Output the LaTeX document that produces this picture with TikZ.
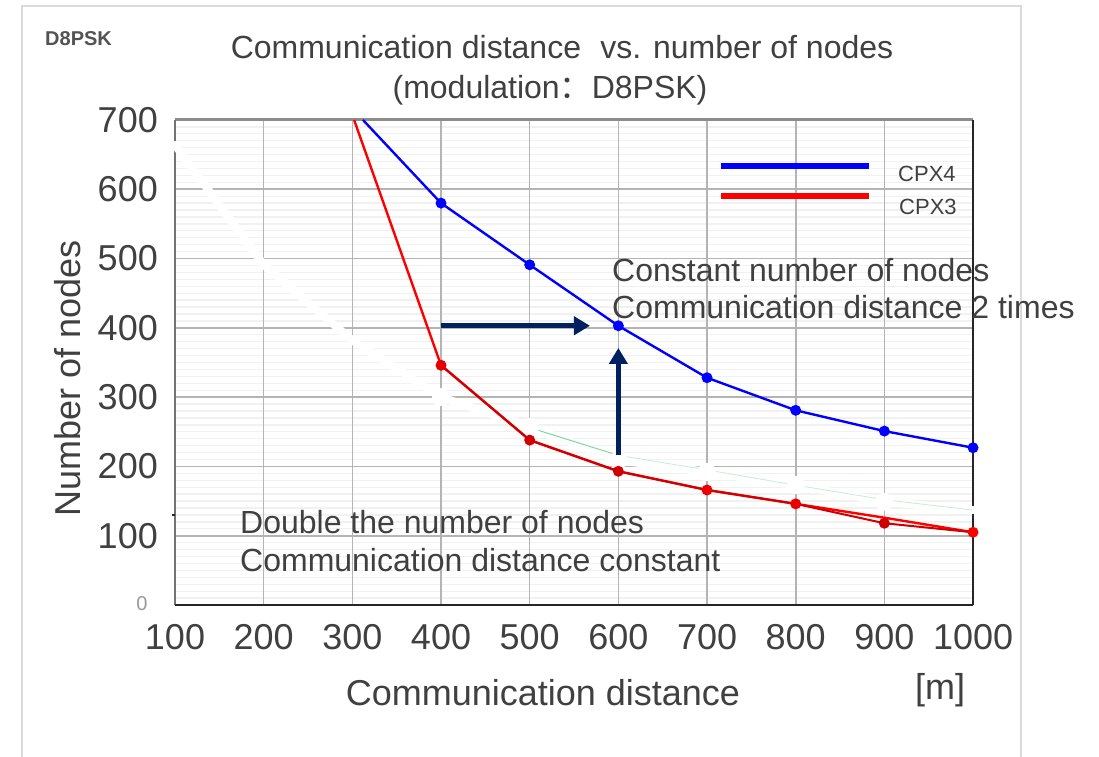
\documentclass[tikz,border=0pt]{standalone}
\usepackage{fontspec}
\setmainfont{Liberation Sans}
\newfontfamily\cjk{Noto Sans CJK SC}
\usetikzlibrary{arrows.meta}
\definecolor{txt}{HTML}{404040}
\definecolor{framegray}{HTML}{DADADA}
\definecolor{majorgrid}{HTML}{B4B4B4}
\definecolor{minorgrid}{HTML}{F1F1F1}
\definecolor{navy}{HTML}{002060}
\definecolor{darkred}{HTML}{D00000}
\definecolor{ghostgreen}{HTML}{7FD6A0}
\tikzset{
  every node/.style={text=txt, inner sep=0pt},
  ticklabel/.style={font=\fontsize{36}{40}\selectfont},
  axislabel/.style={font=\fontsize{36}{40}\selectfont},
  titletext/.style={font=\fontsize{32}{36}\selectfont},
  note/.style={font=\fontsize{32}{36}\selectfont, anchor=west},
  legendtext/.style={font=\fontsize{22}{26}\selectfont, anchor=west},
  minorline/.style={draw=minorgrid, line width=1.3pt},
  majorline/.style={draw=majorgrid, line width=1.6pt},
  blueseries/.style={draw=blue, line width=2.4pt, line join=round},
  redseries/.style={draw=red, line width=2.4pt, line join=round},
  darkredseries/.style={draw=darkred, line width=2pt, line join=round},
  ghost/.style={draw=white, line width=8pt, line join=round, line cap=round},
  navyarrow/.style={draw=navy, line width=5pt, -{Triangle[length=16pt,width=18pt]}},
  legendline/.style={line width=6pt},
}
\begin{document}
\begin{tikzpicture}[x=1pt,y=-1pt]
\useasboundingbox (0,0) rectangle (1099,756);
\fill[white] (0,0) rectangle (1099,756);

% outer frame
\draw[framegray, line width=1.6pt] (22,770) -- (22,6) -- (1021,6) -- (1021,770);

% corner tag and title
\node[anchor=west, text=txt!90, font=\fontsize{20}{22}\selectfont\bfseries] (tag) at (45,39) {D8PSK};
\node[titletext] (title1) at (562,47) {Communication distance\hspace{0.6em}vs. number of nodes};
\node[titletext] (title2) at (550,90) {(modulation{\cjk ：}D8PSK)};

% data area
\begin{scope}[shift={(86.33pt,-605pt)}, x=0.8867pt, y=0.6929pt]
  % grid
  \foreach \v in {10,20,...,690} \draw[minorline] (100,\v) -- (1000,\v);
  \foreach \v in {100,200,...,600} \draw[majorline] (100,\v) -- (1000,\v);
  \foreach \d in {200,300,...,900} \draw[majorline] (\d,0) -- (\d,700);
  % plot frame
  \draw[draw=black!45, line width=3pt] (100,700) -- (1000,700);
  \draw[draw=black!55, line width=2.2pt] (100,0) -- (100,700);
  \draw[draw=black!85, line width=2pt] (100,0) -- (1000,0);
  \draw[draw=black!85, line width=2pt] (1000,0) -- (1000,700);
  \draw[draw=black!85, line width=1.2pt] (100,130) -- ++(-3pt,0);

  % tick labels
  \foreach \v in {100,200,...,700}
    \node[ticklabel, anchor=east] (yt\v) at ([xshift=-17pt]100,\v) {\v};
  \node[anchor=center, text=black!40, font=\fontsize{20}{22}\selectfont] (yt0) at ([xshift=-33pt,yshift=1pt]100,0) {0};
  \foreach \d in {100,200,...,1000}
    \node[ticklabel] (xt\d) at ([yshift=-32pt]\d,0) {\d};

  % series points
  \coordinate (b0) at (312,700);
  \coordinate (b4) at (400,580);
  \coordinate (b5) at (500,491);
  \coordinate (b6) at (600,403);
  \coordinate (b7) at (700,328);
  \coordinate (b8) at (800,281);
  \coordinate (b9) at (900,251);
  \coordinate (b10) at (1000,227);

  \coordinate (r0) at (302,700);
  \coordinate (r4) at (400,346);
  \coordinate (r5) at (500,238);
  \coordinate (r6) at (600,193);
  \coordinate (r7) at (700,166);
  \coordinate (r8) at (800,146);
  \coordinate (r9) at (900,126);
  \coordinate (r10) at (1000,105);
  \coordinate (d9) at (900,118);

  \coordinate (g1) at (100,664);
  \coordinate (g2) at (200,491);
  \coordinate (g3) at (300,382);
  \coordinate (g4) at (400,300);
  \coordinate (g5) at (500,257);
  \coordinate (g6) at (600,209);
  \coordinate (g7) at (700,192);
  \coordinate (g8) at (800,173);
  \coordinate (g9) at (900,149);
  \coordinate (g10) at (1000,137);

  % faded series left behind in white
  \draw[ghost] (g1) -- (g2) -- (g3) -- (g4) -- (g5) -- (g6) -- (g7) -- (g8) -- (g9) -- (g10);
  \coordinate (e5) at (510,252);
  \coordinate (e6) at (600,216);
  \coordinate (e7) at (700,195);
  \coordinate (e8) at (800,173);
  \coordinate (e9) at (900,152);
  \coordinate (e10) at (1000,137);
  \draw[ghostgreen, line width=1pt] (e5) -- (e6);
  \draw[ghostgreen!45, line width=0.8pt] (e6) -- (e7) -- (e8) -- (e9) -- (e10);
  \foreach \p in {g4,g5,g6,g7,g8,g9} \fill[white] (\p) circle[radius=9pt];

  % CPX3
  \draw[redseries] (r0) -- (r4) -- (r5) -- (r6) -- (r7) -- (r8) -- (r9) -- (r10);
  \draw[darkredseries] (r4) -- (r5) -- (r6) -- (r7) -- (r8) -- (d9) -- (r10);
  \fill[red!90!black] (r4) circle[radius=5.5pt];
  \foreach \p in {r5,r6,d9} \fill[darkred] (\p) circle[radius=5.5pt];
  \foreach \p in {r7,r8} \fill[red!92!black] (\p) circle[radius=5.5pt];
  \fill[red] (r10) circle[radius=5.5pt];

  % CPX4
  \draw[blueseries] (b0) -- (b4) -- (b5) -- (b6) -- (b7) -- (b8) -- (b9) -- (b10);
  \foreach \p in {b4,b5,b6,b7,b8,b9,b10} \fill[blue] (\p) circle[radius=5.5pt];

  % arrows
  \coordinate (ha0) at (400,403);
  \coordinate (ha1) at (568,403);
  \coordinate (va0) at (600,216);
  \coordinate (va1) at (600,371);
  \draw[navyarrow] (ha0) -- (ha1);
  \draw[navyarrow] (va0) -- (va1);
\end{scope}

% legend
\coordinate (lb0) at (721,166);
\coordinate (lb1) at (869,166);
\coordinate (lr0) at (721,196);
\coordinate (lr1) at (869,196);
\draw[legendline, blue] (lb0) -- (lb1);
\draw[legendline, red] (lr0) -- (lr1);
\node[legendtext] (cpx4) at (898,174) {CPX4};
\node[legendtext] (cpx3) at (899,207) {CPX3};

% annotations
\node[note] (n1) at (612,270) {Constant number of nodes};
\node[note] (n2) at (612,307) {Communication distance 2 times};
\node[note] (n3) at (240,522) {Double the number of nodes};
\node[note] (n4) at (240,560) {Communication distance constant};

% axis titles
\node[axislabel, rotate=90] (ylab) at (68,378) {Number of nodes};
\node[axislabel] (xlab) at (543,693) {Communication distance};
\node[axislabel] (unit) at (940,690) {[m]};
\end{tikzpicture}
\end{document}
